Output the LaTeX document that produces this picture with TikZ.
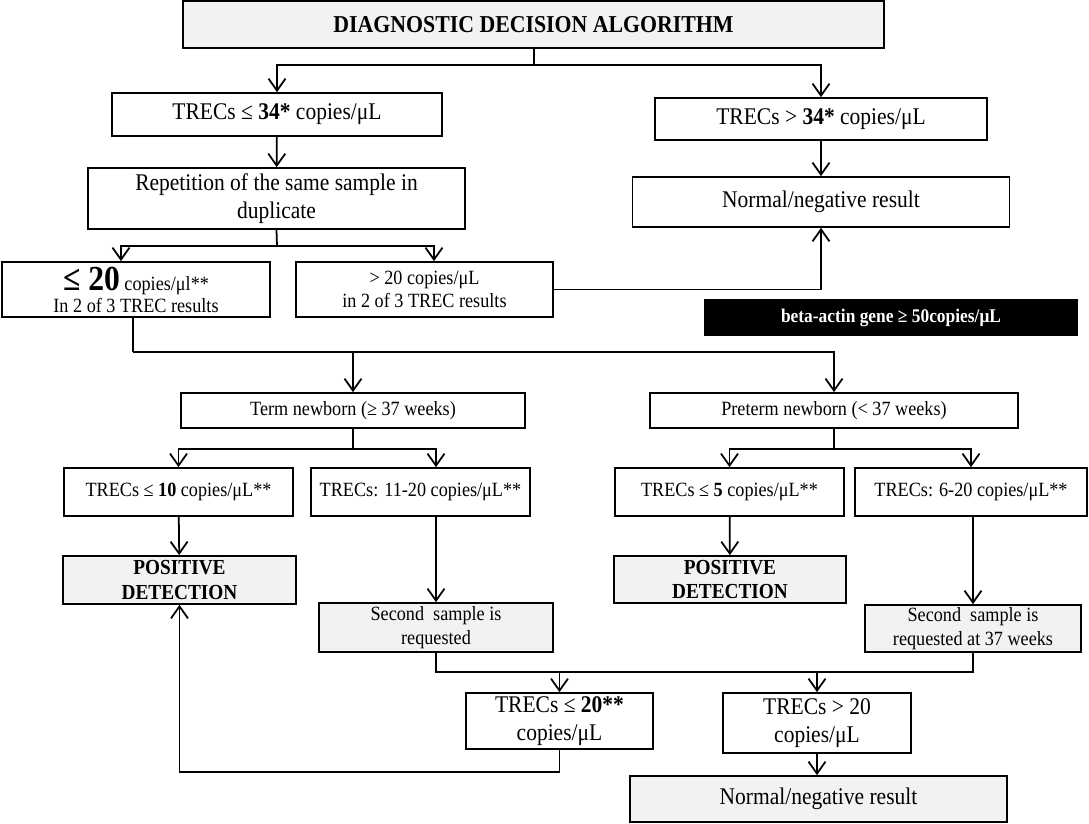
\documentclass[tikz,border=0pt]{standalone}
\usepackage{fontspec}
\setmainfont{Liberation Serif}[FakeStretch=0.9]
\usetikzlibrary{arrows.meta}
\definecolor{Shade}{HTML}{F2F2F2}

\begin{document}
\begin{tikzpicture}[
    x=0.02cm, y=-0.02cm,
    box/.style={
      draw, line width=1pt, fill=white, inner sep=1pt, align=center,
      font=\fontsize{13.6}{16}\selectfont
    },
    mid/.style={box, font=\fontsize{11.5}{13.5}\selectfont},
    grey/.style={fill=Shade},
    result/.style={box, fill=Shade, font=\bfseries\fontsize{12.2}{14}\selectfont},
    arr/.style={-{Straight Barb[length=2.4mm,width=3.4mm]}, line width=1pt}
  ]
    \useasboundingbox (0,0) rectangle (1089,824);

    \node[box,grey,minimum width=14.02cm,minimum height=0.94cm,font=\bfseries\fontsize{13.8}{16}\selectfont] (title) at (533.5,24.5) {DIAGNOSTIC DECISION ALGORITHM};

    \node[box,minimum width=6.6cm,minimum height=0.86cm] (lowa) at (277,114.5) {TRECs ≤ \textbf{34*} copies/μL};
    \node[box,minimum width=6.64cm,minimum height=0.84cm] (higha) at (821,119) {TRECs > \textbf{34*} copies/μL};
    \node[box,minimum width=7.54cm,minimum height=1.22cm] (rep) at (276.5,198.5) {Repetition of the same sample in\\duplicate};
    \node[box,minimum width=7.54cm,minimum height=1.0cm] (norma) at (821,202) {Normal/negative result};

    \node[mid,minimum width=5.36cm,minimum height=1.1cm] (lowb) at (136,289.5) {{\bfseries\fontsize{20}{20}\selectfont ≤ 20} copies/μl**\\[-1pt]In 2 of 3 TREC results};
    \node[mid,minimum width=5.14cm,minimum height=1.1cm] (highb) at (424.5,289.5) {> 20 copies/μL\\in 2 of 3 TREC results};
    \node[box,fill=black,text=white,minimum width=7.44cm,minimum height=0.7cm,font=\bfseries\fontsize{11}{13}\selectfont] (actin) at (891,317.5) {beta-actin gene ≥ 50copies/μL};

    \node[mid,minimum width=6.88cm,minimum height=0.7cm] (term) at (353,410.5) {Term newborn (≥ 37 weeks)};
    \node[mid,minimum width=7.36cm,minimum height=0.7cm] (preterm) at (834,410.5) {Preterm newborn (< 37 weeks)};

    \node[mid,minimum width=4.58cm,minimum height=0.96cm] (terma) at (178.5,492) {TRECs ≤ \textbf{10} copies/μL**};
    \node[mid,minimum width=4.38cm,minimum height=0.96cm] (termb) at (420.5,492) {TRECs: 11-20 copies/μL**};
    \node[mid,minimum width=4.58cm,minimum height=0.96cm] (prea) at (729.5,492) {TRECs ≤ \textbf{5} copies/μL**};
    \node[mid,minimum width=4.64cm,minimum height=0.96cm] (preb) at (971,492) {TRECs: 6-20 copies/μL**};

    \node[result,minimum width=4.66cm,minimum height=0.96cm] (posa) at (179.5,580) {POSITIVE\\DETECTION};
    \node[result,minimum width=4.64cm,minimum height=0.94cm] (posb) at (730,579.5) {POSITIVE\\DETECTION};
    \node[mid,grey,minimum width=4.68cm,minimum height=0.98cm] (seca) at (436,627.5) {Second~ sample is\\requested};
    \node[mid,grey,minimum width=4.32cm,minimum height=0.94cm] (secb) at (973,628.5) {Second~ sample is\\requested at 37 weeks};

    \node[box,minimum width=3.74cm,minimum height=1.12cm] (retla) at (559.5,721) {TRECs ≤ \textbf{20**}\\copies/μL};
    \node[box,minimum width=3.76cm,minimum height=1.2cm] (retlb) at (817,723) {TRECs > 20\\copies/μL};
    \node[box,grey,minimum width=7.54cm,minimum height=0.92cm] (normb) at (818.5,799) {Normal/negative result};

    % junctions
    \coordinate (j1) at (534,65);
    \coordinate (j2) at (277,246);
    \coordinate (j2l) at (121,246);
    \coordinate (j2r) at (434,246);
    \coordinate (j3) at (133,352);
    \coordinate (j4) at (353,449);
    \coordinate (j4r) at (436,449);
    \coordinate (j5) at (834,449);
    \coordinate (j6a) at (436,672);
    \coordinate (j6b) at (973,672);
    \coordinate (j7) at (559.5,772);

    \draw[line width=1pt] (title.south -| j1) -- (j1);
    \draw[arr] (j1) -| (lowa.north);
    \draw[arr] (j1) -| (higha.north);
    \draw[arr] (lowa) -- (rep);
    \draw[arr] (higha) -- (norma);

    \draw[line width=1pt] (rep.south) -- (j2);
    \draw[arr] (j2) -- (j2l) -- (j2l |- lowb.north);
    \draw[arr] (j2) -- (j2r) -- (j2r |- highb.north);
    \draw[arr] (highb.east) -| (norma.south);

    \draw[line width=1pt] (lowb.south -| j3) -- (j3);
    \draw[arr] (j3) -| (term.north);
    \draw[arr] (j3) -| (preterm.north);

    \draw[line width=1pt] (term.south) -- (j4);
    \draw[arr] (j4) -| (terma.north);
    \draw[arr] (j4) -- (j4r) -- (j4r |- termb.north);
    \draw[line width=1pt] (preterm.south) -- (j5);
    \draw[arr] (j5) -| (prea.north);
    \draw[arr] (j5) -| (preb.north);

    \draw[arr] (terma) -- (posa);
    \draw[arr] (prea) -- (posb);
    \draw[arr] (termb.south -| seca.north) -- (seca.north);
    \draw[arr] (preb.south -| secb.north) -- (secb.north);

    \draw[line width=1pt] (seca.south) -- (j6a) -- (j6b) -- (secb.south);
    \draw[arr] (j6a -| retla.north) -- (retla.north);
    \draw[arr] (j6a -| retlb.north) -- (retlb.north);
    \draw[arr] (retla.south) -- (j7) -| (posa.south);
    \draw[arr] (retlb.south) -- (retlb.south |- normb.north);
  \end{tikzpicture}
\end{document}
